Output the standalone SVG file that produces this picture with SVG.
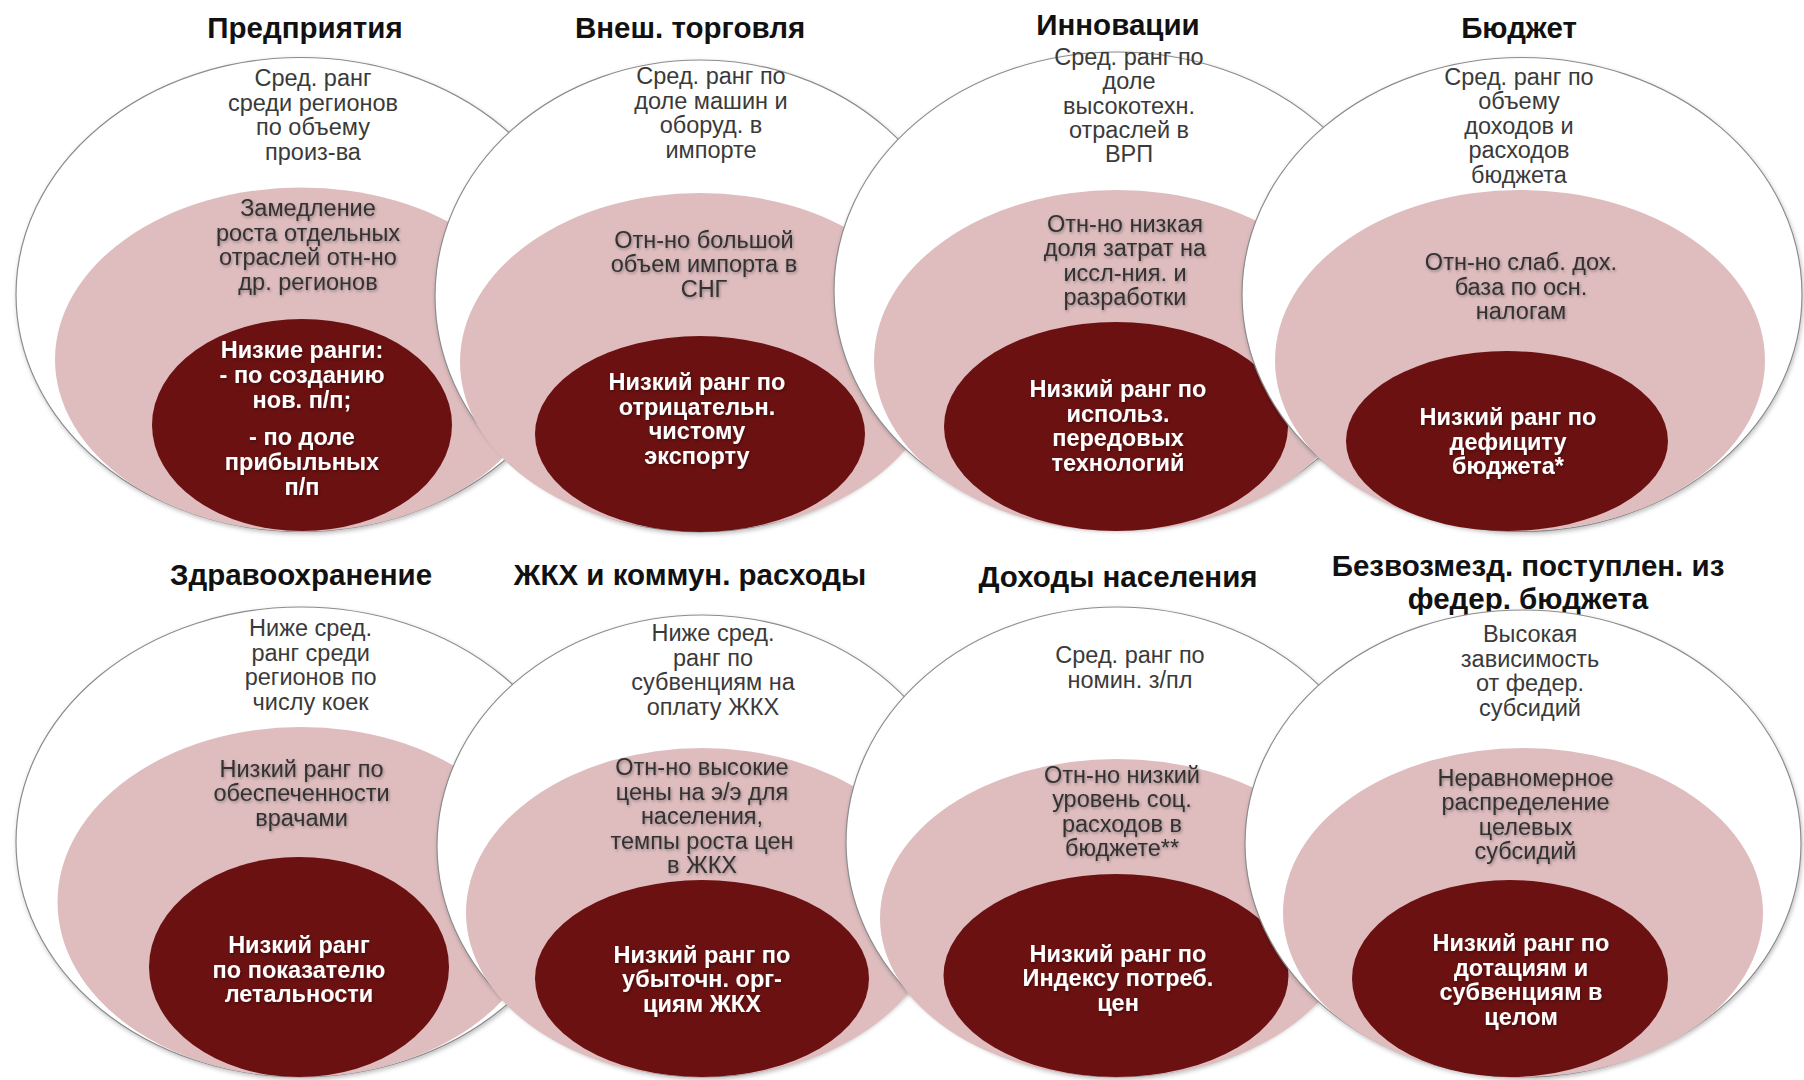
<svg xmlns="http://www.w3.org/2000/svg" width="1804" height="1080" viewBox="0 0 1804 1080">
<defs>
<filter id="esh" x="-10%" y="-10%" width="120%" height="120%"><feDropShadow dx="1" dy="2" stdDeviation="2" flood-color="#000" flood-opacity="0.25"/></filter>
<filter id="tsh" x="-10%" y="-30%" width="120%" height="160%"><feDropShadow dx="1" dy="1.5" stdDeviation="1.5" flood-color="#000" flood-opacity="0.35"/></filter>
</defs>
<style>
.outer{fill:#fff;stroke:#8c8c8c;stroke-width:1.2}
.mid{fill:#dfbdbf}
.core{fill:#6b1111}
text{font-family:"Liberation Sans",Arial,sans-serif;text-anchor:middle}
.title{font-size:29.5px;font-weight:bold;fill:#111}
.t1{font-size:23.5px;fill:#3a3a3a}
.t2{font-size:23.5px;fill:#333;filter:url(#tsh)}
.t3{font-size:23.5px;font-weight:bold;fill:#fff;filter:url(#tsh)}
</style>
<rect width="1804" height="1080" fill="#fff"/>

<g id="n1">
<text class="title" x="305" y="37.5">Предприятия</text>
<ellipse class="outer" filter="url(#esh)" cx="301" cy="294.5" rx="285" ry="237"/>
<ellipse class="mid" cx="301" cy="359.5" rx="246" ry="172"/>
<ellipse class="core" cx="302" cy="425" rx="150" ry="106"/>
<text class="t1"><tspan x="313" y="86.25">Сред. ранг</tspan><tspan x="313" y="110.75">среди регионов</tspan><tspan x="313" y="135.25">по объему</tspan><tspan x="313" y="159.75">произ-ва</tspan></text>
<text class="t2"><tspan x="308" y="216.25">Замедление</tspan><tspan x="308" y="240.75">роста отдельных</tspan><tspan x="308" y="265.25">отраслей отн-но</tspan><tspan x="308" y="289.75">др. регионов</tspan></text>
<text class="t3"><tspan x="302" y="358">Низкие ранги:</tspan><tspan x="302" y="383">- по созданию</tspan><tspan x="302" y="408">нов. п/п;</tspan><tspan x="302" y="445">- по доле</tspan><tspan x="302" y="470">прибыльных</tspan><tspan x="302" y="495">п/п</tspan></text>
</g>

<g id="n2">
<text class="title" x="690" y="38">Внеш. торговля</text>
<ellipse class="outer" filter="url(#esh)" cx="700" cy="296" rx="265" ry="236"/>
<ellipse class="mid" cx="700" cy="362" rx="240" ry="169"/>
<ellipse class="core" cx="700" cy="434" rx="165" ry="98"/>
<text class="t1"><tspan x="711" y="84.25">Сред. ранг по</tspan><tspan x="711" y="108.75">доле машин и</tspan><tspan x="711" y="133.25">оборуд. в</tspan><tspan x="711" y="157.75">импорте</tspan></text>
<text class="t2"><tspan x="704" y="247.5">Отн-но большой</tspan><tspan x="704" y="272">объем импорта в</tspan><tspan x="704" y="296.5">СНГ</tspan></text>
<text class="t3"><tspan x="697" y="390">Низкий ранг по</tspan><tspan x="697" y="414.5">отрицательн.</tspan><tspan x="697" y="439">чистому</tspan><tspan x="697" y="463.5">экспорту</tspan></text>
</g>

<g id="n3">
<text class="title" x="1118" y="34.5">Инновации</text>
<ellipse class="outer" filter="url(#esh)" cx="1117" cy="290.5" rx="283" ry="238.5"/>
<ellipse class="mid" cx="1117" cy="360.5" rx="243" ry="170.5"/>
<ellipse class="core" cx="1116" cy="426.5" rx="172" ry="104.5"/>
<text class="t1"><tspan x="1129" y="65">Сред. ранг по</tspan><tspan x="1129" y="89">доле</tspan><tspan x="1129" y="113.5">высокотехн.</tspan><tspan x="1129" y="138">отраслей в</tspan><tspan x="1129" y="162">ВРП</tspan></text>
<text class="t2"><tspan x="1125" y="231.75">Отн-но низкая</tspan><tspan x="1125" y="256.25">доля затрат на</tspan><tspan x="1125" y="280.75">иссл-ния. и</tspan><tspan x="1125" y="305.25">разработки</tspan></text>
<text class="t3"><tspan x="1118" y="397.25">Низкий ранг по</tspan><tspan x="1118" y="421.75">использ.</tspan><tspan x="1118" y="446.25">передовых</tspan><tspan x="1118" y="470.75">технологий</tspan></text>
</g>

<g id="n4">
<text class="title" x="1519" y="38">Бюджет</text>
<ellipse class="outer" filter="url(#esh)" cx="1522" cy="294.5" rx="280" ry="237"/>
<ellipse class="mid" cx="1520" cy="360.5" rx="245" ry="170.5"/>
<ellipse class="core" cx="1507" cy="441" rx="161" ry="90"/>
<text class="t1"><tspan x="1519" y="84.5">Сред. ранг по</tspan><tspan x="1519" y="109">объему</tspan><tspan x="1519" y="133.5">доходов и</tspan><tspan x="1519" y="158">расходов</tspan><tspan x="1519" y="182.5">бюджета</tspan></text>
<text class="t2"><tspan x="1521" y="270">Отн-но слаб. дох.</tspan><tspan x="1521" y="294.5">база по осн.</tspan><tspan x="1521" y="319">налогам</tspan></text>
<text class="t3"><tspan x="1508" y="425.3">Низкий ранг по</tspan><tspan x="1508" y="449.8">дефициту</tspan><tspan x="1508" y="474.3">бюджета*</tspan></text>
</g>

<g id="n5">
<text class="title" x="301" y="584.5">Здравоохранение</text>
<ellipse class="outer" filter="url(#esh)" cx="301" cy="842" rx="285" ry="235"/>
<ellipse class="mid" cx="301" cy="902" rx="243.5" ry="175"/>
<ellipse class="core" cx="299" cy="967" rx="150" ry="110"/>
<text class="t1"><tspan x="310.6" y="636.25">Ниже сред.</tspan><tspan x="310.6" y="660.75">ранг среди</tspan><tspan x="310.6" y="685.25">регионов по</tspan><tspan x="310.6" y="709.75">числу коек</tspan></text>
<text class="t2"><tspan x="301.5" y="776.75">Низкий ранг по</tspan><tspan x="301.5" y="801.25">обеспеченности</tspan><tspan x="301.5" y="825.75">врачами</tspan></text>
<text class="t3"><tspan x="299" y="953.35">Низкий ранг</tspan><tspan x="299" y="977.85">по показателю</tspan><tspan x="299" y="1002.35">летальности</tspan></text>
</g>

<g id="n6">
<text class="title" x="690" y="584.5">ЖКХ и коммун. расходы</text>
<ellipse class="outer" filter="url(#esh)" cx="702" cy="846" rx="265" ry="231"/>
<ellipse class="mid" cx="702" cy="912.5" rx="236" ry="164.5"/>
<ellipse class="core" cx="702" cy="978.5" rx="167" ry="98.5"/>
<text class="t1"><tspan x="713" y="641.1">Ниже сред.</tspan><tspan x="713" y="665.6">ранг по</tspan><tspan x="713" y="690.1">субвенциям на</tspan><tspan x="713" y="714.6">оплату ЖКХ</tspan></text>
<text class="t2"><tspan x="702" y="775.3">Отн-но высокие</tspan><tspan x="702" y="799.8">цены на э/э для</tspan><tspan x="702" y="824.3">населения,</tspan><tspan x="702" y="848.8">темпы роста цен</tspan><tspan x="702" y="873.3">в ЖКХ</tspan></text>
<text class="t3"><tspan x="702" y="962.75">Низкий ранг по</tspan><tspan x="702" y="987.25">убыточн. орг-</tspan><tspan x="702" y="1011.75">циям ЖКХ</tspan></text>
</g>

<g id="n7">
<text class="title" x="1118" y="587">Доходы населения</text>
<ellipse class="outer" filter="url(#esh)" cx="1117" cy="842" rx="271" ry="235"/>
<ellipse class="mid" cx="1117" cy="918" rx="237" ry="159"/>
<ellipse class="core" cx="1116" cy="975.5" rx="172.5" ry="101.5"/>
<text class="t1"><tspan x="1130" y="663">Сред. ранг по</tspan><tspan x="1130" y="688">номин. з/пл</tspan></text>
<text class="t2"><tspan x="1122" y="782.95">Отн-но низкий</tspan><tspan x="1122" y="807.45">уровень соц.</tspan><tspan x="1122" y="831.95">расходов в</tspan><tspan x="1122" y="856.45">бюджете**</tspan></text>
<text class="t3"><tspan x="1118" y="961.7">Низкий ранг по</tspan><tspan x="1118" y="986.2">Индексу потреб.</tspan><tspan x="1118" y="1010.7">цен</tspan></text>
</g>

<g id="n8">
<text class="title"><tspan x="1528" y="575.5">Безвозмезд. поступлен. из</tspan><tspan x="1528" y="608.5">федер. бюджета</tspan></text>
<ellipse class="outer" filter="url(#esh)" cx="1523" cy="843.5" rx="278" ry="233.5"/>
<ellipse class="mid" cx="1523" cy="912.5" rx="240" ry="164.5"/>
<ellipse class="core" cx="1510" cy="978.5" rx="158" ry="98.5"/>
<text class="t1"><tspan x="1530" y="642.25">Высокая</tspan><tspan x="1530" y="666.75">зависимость</tspan><tspan x="1530" y="691.25">от федер.</tspan><tspan x="1530" y="715.75">субсидий</tspan></text>
<text class="t2"><tspan x="1525.5" y="785.95">Неравномерное</tspan><tspan x="1525.5" y="810.45">распределение</tspan><tspan x="1525.5" y="834.95">целевых</tspan><tspan x="1525.5" y="859.45">субсидий</tspan></text>
<text class="t3"><tspan x="1521" y="951.45">Низкий ранг по</tspan><tspan x="1521" y="975.95">дотациям и</tspan><tspan x="1521" y="1000.45">субвенциям в</tspan><tspan x="1521" y="1024.95">целом</tspan></text>
</g>

<g id="connectors"></g>
</svg>
